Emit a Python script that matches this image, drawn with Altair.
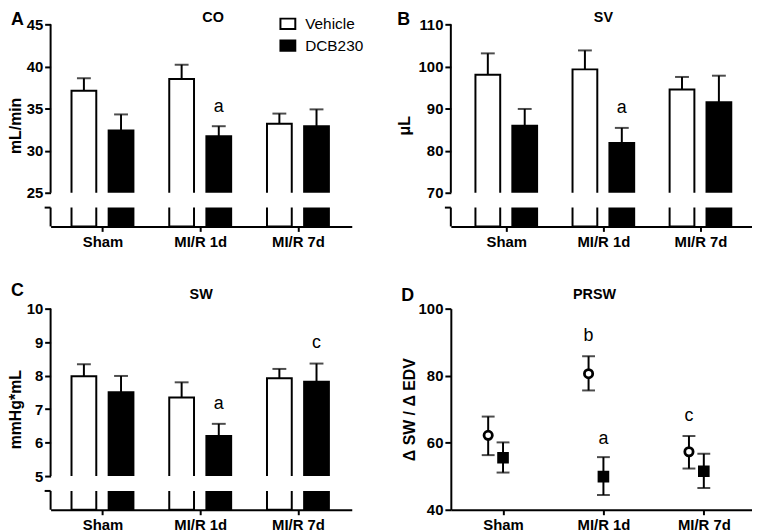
import json
import altair as alt
import pandas as pd
import numpy as np

# ---------------- data ----------------
categories = ["Sham", "MI/R 1d", "MI/R 7d"]
series = ["Vehicle", "DCB230"]

co_vehicle = [37.1, 38.5, 33.2]
co_vehicle_err = [38.6, 40.2, 34.4]
co_dcb = [32.4, 31.7, 32.9]
co_dcb_err = [34.3, 32.9, 34.9]
co_notes = [("MI/R 1d", "DCB230", 35.2, "a")]

sv_vehicle = [98.0, 99.3, 94.5]
sv_vehicle_err = [103.1, 103.8, 97.5]
sv_dcb = [85.9, 81.8, 91.5]
sv_dcb_err = [89.9, 85.4, 97.8]
sv_notes = [("MI/R 1d", "DCB230", 90.2, "a")]

sw_vehicle = [7.98, 7.35, 7.92]
sw_vehicle_err = [8.34, 7.80, 8.20]
sw_dcb = [7.50, 6.20, 7.82]
sw_dcb_err = [7.99, 6.56, 8.36]
sw_notes = [("MI/R 1d", "DCB230", 7.15, "a"), ("MI/R 7d", "DCB230", 8.98, "c")]

prsw_vehicle = [62.2, 80.6, 57.3]
prsw_vehicle_hi = [67.8, 85.8, 62.0]
prsw_vehicle_lo = [56.3, 75.6, 52.3]
prsw_dcb = [55.5, 49.9, 51.5]
prsw_dcb_hi = [60.1, 55.7, 56.7]
prsw_dcb_lo = [51.1, 44.4, 46.5]
prsw_notes = [("MI/R 1d", "Vehicle", 91.9, "b"), ("MI/R 1d", "DCB230", 61.2, "a"),
              ("MI/R 7d", "Vehicle", 68.1, "c")]

# ---------------- style / layout ----------------
FONT = "Liberation Sans"
W, H = 304, 204
H2 = 203
GAP_PX, STUB_PX = 15, 19
ONE = pd.DataFrame({"k": [0]})
BAR_OFFSET = {"Vehicle": -0.19, "DCB230": 0.19}     # group-relative shift (in category units)
PT_OFFSET = {"Vehicle": -0.148, "DCB230": 0.0}
LABEL_EXPR = json.dumps(categories) + "[datum.value]"


def pos(groups, sers, offs):
    return [categories.index(g) + offs[s] for g, s in zip(groups, sers)]


def x_enc(domain):
    return alt.X("pos:Q", scale=alt.Scale(domain=domain, nice=False, zero=False),
                 axis=alt.Axis(title=None, values=[0, 1, 2], labelExpr=LABEL_EXPR, labelAngle=0,
                               labelFont=FONT, labelFontSize=15, labelFontWeight="bold",
                               labelColor="black", labelPadding=3, tickSize=5, tickWidth=2,
                               tickColor="black", domainColor="black", domainWidth=2,
                               grid=False, zindex=1))


def y_axis(title, values, domain, title_x):
    return alt.Axis(title=title, values=values, domain=domain, domainColor="black",
                    domainWidth=2, tickSize=6, tickWidth=2, tickColor="black",
                    labelFont=FONT, labelFontSize=15, labelFontWeight="bold",
                    labelColor="black", labelPadding=2, grid=False,
                    titleFont=FONT, titleFontSize=16, titleFontWeight="bold",
                    titleColor="black", titleX=title_x, titleBaseline="bottom",
                    titleAngle=-90, zindex=1)


def label_layers(letter, lx, ly, title, tdx, ty):
    lab = alt.Chart(ONE).mark_text(text=letter, font=FONT, fontSize=18, fontWeight="bold",
                                   align="left", baseline="top", color="black").encode(
        x=alt.value(lx), y=alt.value(ly))
    ttl = alt.Chart(ONE).mark_text(text=title, font=FONT, fontSize=14.5, fontWeight="bold",
                                   align="center", baseline="top", color="black").encode(
        x=alt.value(W / 2 + tdx), y=alt.value(ty))
    return [lab, ttl]


def bar_panel(letter, title, ytitle, veh, veh_err, dcb, dcb_err, top, bottom, step, notes,
              lx, ly, tdx, ty, title_x, xdom, h, legend):
    unit = (top - bottom) / (h - GAP_PX - STUB_PX)
    lo = bottom - (GAP_PX + STUB_PX) * unit
    stub_top = lo + STUB_PX * unit
    grp = categories * 2
    ser = [series[0]] * 3 + [series[1]] * 3
    df = pd.DataFrame({"group": grp, "series": ser, "pos": pos(grp, ser, BAR_OFFSET),
                       "mean": veh + dcb, "err": veh_err + dcb_err})
    ysc = alt.Scale(domain=[lo, top], nice=False, zero=False)
    yax = y_axis(ytitle, [float(v) for v in np.arange(bottom, top + step / 2, step)], False, title_x)

    def Y(field=None, datum=None):
        if field is not None:
            return alt.Y(field, type="quantitative", scale=ysc, axis=yax)
        return alt.Y(datum=datum, type="quantitative", scale=ysc, axis=yax)

    X = x_enc(xdom)
    if legend:
        leg = alt.Legend(orient="none", legendX=231, legendY=-9, title=None,
                         symbolType="M-1,-0.7H1V0.7H-1Z", symbolSize=225,
                         symbolStrokeColor="black", symbolStrokeWidth=2,
                         labelFont=FONT, labelFontSize=15.5, labelColor="black",
                         rowPadding=3, labelOffset=9, padding=0)
    else:
        leg = None
    fill = alt.Fill("series:N", sort=series,
                    scale=alt.Scale(domain=series, range=["white", "black"]), legend=leg)

    base = alt.Chart(df)
    bars = base.mark_bar(size=25, stroke="black", strokeWidth=2).encode(
        x=X, y=Y("mean"), y2=alt.Y2(datum=lo), fill=fill)
    stems = base.mark_rule(strokeWidth=2, color="black").encode(
        x=X, y=Y("mean"), y2="err:Q")
    caps = base.mark_tick(orient="horizontal", size=14, thickness=2, color="black").encode(
        x=X, y=Y("err"))
    gap = alt.Chart(ONE).mark_rect(color="white").encode(
        x=alt.value(0), x2=alt.value(W), y=Y(datum=stub_top), y2=alt.Y2(datum=bottom))
    axis_main = alt.Chart(ONE).mark_rule(strokeWidth=2, color="black").encode(
        x=alt.value(0), y=Y(datum=bottom), y2=alt.Y2(datum=top))
    axis_stub = alt.Chart(ONE).mark_rule(strokeWidth=2, color="black").encode(
        x=alt.value(0), y=Y(datum=lo), y2=alt.Y2(datum=stub_top))
    stub_tick = alt.Chart(ONE).mark_rule(strokeWidth=2, color="black").encode(
        x=alt.value(-6), x2=alt.value(0), y=Y(datum=stub_top))
    ndf = pd.DataFrame(notes, columns=["group", "series", "yv", "label"])
    ndf["pos"] = pos(ndf["group"], ndf["series"], BAR_OFFSET)
    txt = alt.Chart(ndf).mark_text(font=FONT, fontSize=18, color="black", baseline="middle").encode(
        x=X, y=Y("yv"), text="label:N")
    layers = [bars, stems, caps, gap, axis_main, axis_stub, stub_tick, txt] + \
        label_layers(letter, lx, ly, title, tdx, ty)
    return alt.layer(*layers).properties(width=W, height=h)


def prsw_panel():
    grp = categories * 2
    ser = [series[0]] * 3 + [series[1]] * 3
    df = pd.DataFrame({"group": grp, "series": ser, "pos": pos(grp, ser, PT_OFFSET),
                       "mean": prsw_vehicle + prsw_dcb,
                       "hi": prsw_vehicle_hi + prsw_dcb_hi,
                       "lo": prsw_vehicle_lo + prsw_dcb_lo})
    ysc = alt.Scale(domain=[40, 100], nice=False, zero=False)
    yax = y_axis("\u0394 SW / \u0394 EDV", [40, 60, 80, 100], True, -34)
    X = x_enc([-0.52, 2.48])
    leg = alt.Legend(orient="none", legendX=216, legendY=-11, title=None,
                     symbolSize=80, symbolStrokeColor="black", symbolStrokeWidth=2.5,
                     labelFont=FONT, labelFontSize=15, labelColor="black",
                     rowPadding=4, labelOffset=10, padding=0)
    base = alt.Chart(df)
    err = base.mark_rule(strokeWidth=2, color="black").encode(
        x=X, y=alt.Y("lo:Q", scale=ysc, axis=yax), y2="hi:Q")
    cap_hi = base.mark_tick(orient="horizontal", size=13, thickness=2, color="black").encode(
        x=X, y=alt.Y("hi:Q", scale=ysc, axis=yax))
    cap_lo = base.mark_tick(orient="horizontal", size=13, thickness=2, color="black").encode(
        x=X, y=alt.Y("lo:Q", scale=ysc, axis=yax))
    pts = base.mark_point(filled=True, stroke="black", strokeWidth=2.8, opacity=1).encode(
        x=X, y=alt.Y("mean:Q", scale=ysc, axis=yax),
        shape=alt.Shape("series:N", sort=series,
                        scale=alt.Scale(domain=series, range=["circle", "square"]), legend=leg),
        fill=alt.Fill("series:N", sort=series,
                      scale=alt.Scale(domain=series, range=["white", "black"]), legend=leg),
        size=alt.Size("series:N", sort=series,
                      scale=alt.Scale(domain=series, range=[70, 80]), legend=None))
    ndf = pd.DataFrame(prsw_notes, columns=["group", "series", "yv", "label"])
    ndf["pos"] = pos(ndf["group"], ndf["series"], PT_OFFSET)
    txt = alt.Chart(ndf).mark_text(font=FONT, fontSize=18, color="black", baseline="middle").encode(
        x=X, y=alt.Y("yv:Q", scale=ysc, axis=yax), text="label:N")
    layers = [err, cap_hi, cap_lo, pts, txt] + label_layers("D", -50, -22, "PRSW", -7, -21)
    return alt.layer(*layers).properties(width=W, height=H2)


pA = bar_panel("A", "CO", "mL/min", co_vehicle, co_vehicle_err, co_dcb, co_dcb_err,
               45, 25, 5, co_notes, -40, -13, 12, -13, -27, [-0.48, 2.5], H, True)
pB = bar_panel("B", "SV", "\u03bcL", sv_vehicle, sv_vehicle_err, sv_dcb, sv_dcb_err,
               110, 70, 10, sv_notes, -54, -13, 2, -13, -39, [-0.52, 2.48], H, False)
pC = bar_panel("C", "SW", "mmHg*mL", sw_vehicle, sw_vehicle_err, sw_dcb, sw_dcb_err,
               10, 5, 1, sw_notes, -40, -27, 0, -21, -27, [-0.48, 2.5], H2, False)
pD = prsw_panel()

chart = alt.concat(pA, pB, pC, pD, columns=2, spacing={"row": 83, "column": 100},
                   bounds="flush").resolve_scale(
    fill="independent", shape="independent", size="independent").resolve_legend(
    fill="independent", shape="independent", size="independent").properties(
    padding=0, background="white").configure_view(stroke=None)

chart.save("out.html", embed_options={"renderer": "svg", "actions": False})
